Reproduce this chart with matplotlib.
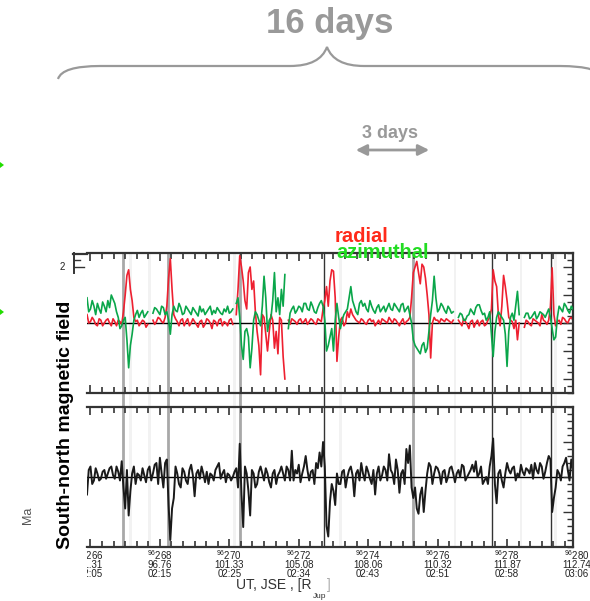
import numpy as np
import matplotlib
matplotlib.use("Agg")
import matplotlib.pyplot as plt
from matplotlib.path import Path
from matplotlib.patches import PathPatch, Rectangle, Polygon

plt.rcParams["font.family"] = ["Liberation Sans", "DejaVu Sans"]
plt.rcParams["mathtext.fontset"] = "custom"
plt.rcParams["mathtext.rm"] = "Liberation Sans"
plt.rcParams["mathtext.it"] = "Liberation Sans"

nan = np.nan

# sample grid: day of year 1996, every 0.1 day, plus the half steps in between
days = np.round(265.9 + 0.1 * np.arange(141), 2)
days_mid = np.round(265.95 + 0.1 * np.arange(140), 2)

radial = [
    0.3, 0.05, 0.1, -0.1, 0.1, 0.0, 0.15, -0.1, 0.05, 0.1,
    -0.05, 1.0, 1.9, 0.8, 0.05, -0.1, 0.1, -0.15, nan, 0.1,
    0.05, 0.15, 0.0, 0.6, 2.3, 0.3, 0.05, 0.1, -0.1, 0.15,
    0.0, 0.05, -0.15, 0.1, -0.05, 0.1, -0.2, 0.05, 0.1, -0.1,
    0.0, 0.1, -0.05, 0.3, 2.4, 1.5, 0.5, 2.0, 1.5, -0.3,
    -1.85, 0.2, -1.0, 0.3, -0.9, -1.1, 0.1, -2.0, 0.1, 0.15,
    0.05, 0.1, 0.0, 0.15, 0.05, 0.1, -0.05, 0.1, 0.5, 1.3,
    1.5, 1.85, -1.37, 0.1, -0.1, 0.4, 0.5, 0.2, 0.05, 0.15,
    0.0, 0.1, 0.05, -0.1, 0.1, 0.15, 0.05, 0.2, 0.0, 0.1,
    -0.1, 0.15, 0.05, 0.2, 1.8, 2.2, 1.4, 2.0, 1.0, -1.25,
    0.2, 0.1, 0.15, 0.05, 0.1, 0.0, nan, 0.1, -0.1, 0.05,
    -0.2, 0.1, 0.0, -0.1, 0.1, -0.05, 0.2, 1.9, 1.3, -0.1,
    1.7, 0.8, 0.1, -0.2, -0.6, nan, -0.15, 0.05, -0.1, 0.1,
    0.0, 0.3, 0.05, 0.1, 1.97, -0.1, 0.1, 0.2, 0.05, 0.15,
    0.1]
radial_mid = [
    0.0, 0.2, -0.05, 0.15, -0.1, 0.1, 0.0, 0.15, -0.1, 0.05,
    0.4, 1.7, 1.2, 0.2, 0.1, 0.0, 0.05, -0.05, nan, -0.05,
    0.2, 0.05, 0.2, 1.6, 1.2, 0.15, -0.1, 0.15, 0.05, -0.1,
    0.15, -0.05, 0.05, -0.15, 0.15, 0.0, 0.1, -0.1, 0.15, 0.05,
    -0.1, 0.15, nan, 1.2, 2.0, 0.8, 1.8, 1.2, 0.4, -0.8,
    0.3, -0.4, -0.3, 0.1, -0.3, 0.2, -1.2, nan, -0.05, 0.1,
    -0.05, 0.15, 0.05, -0.05, 0.15, 0.0, 0.15, 0.05, 0.8, 0.6,
    1.9, 0.9, -0.5, 0.2, 0.0, 0.2, 0.3, 0.1, 0.0, 0.1,
    -0.05, 0.15, 0.1, 0.0, -0.05, 0.1, 0.0, 0.1, 0.15, 0.0,
    0.05, -0.05, 0.1, 0.9, 2.0, 1.8, 2.1, 1.6, 0.3, 0.0,
    0.1, 0.0, 0.1, 0.15, 0.05, 0.1, nan, 0.0, 0.15, -0.05,
    0.05, -0.15, 0.1, 0.05, -0.1, 0.1, 0.5, 1.5, 0.3, 0.6,
    1.3, 0.2, 0.05, 0.1, 0.0, nan, 0.1, -0.05, 0.15, 0.05,
    -0.1, 0.1, -0.05, 0.6, 0.3, 0.05, -0.05, 0.15, 0.0, 0.2]

azimuthal = [
    0.9, 0.5, 0.6, 0.7, 0.35, 0.6, 0.8, 1.0, 0.7, 0.2,
    -0.1, 0.2, -1.6, -0.4, 0.3, 0.2, 0.45, 0.3, nan, 0.35,
    0.5, 0.3, 0.55, 0.4, -0.4, 0.6, 0.4, 0.55, 0.35, 0.5,
    0.3, 0.45, 0.25, 0.4, 0.3, 0.5, 0.3, 0.35, 0.45, 0.3,
    0.4, 0.35, 0.5, 0.7, 0.2, -1.3, -0.2, -1.6, 0.1, 0.3,
    -0.1, 1.67, -0.3, 0.2, 1.8, 0.9, 1.2, 1.73, -0.2, 0.5,
    0.35, 0.6, 0.4, 0.7, 0.45, 0.6, 0.35, 0.7, 0.6, -1.0,
    -0.5, -1.0, 0.7, -0.2, 0.3, 0.5, 1.3, 0.6, 0.3, 0.8,
    0.7, 0.4, 0.6, 0.35, 0.65, 0.5, 0.4, 0.7, 0.45, 0.6,
    0.4, 0.7, 0.5, 0.3, -0.6, -0.9, -1.1, -0.7, -0.9, 0.3,
    1.67, 0.4, 0.7, 0.45, 0.6, 0.35, nan, 0.2, 0.3, 0.1,
    0.3, 0.4, 0.55, 0.65, 0.3, 0.1, 0.4, -1.2, 0.2, 0.3,
    0.1, -1.55, 0.2, 0.1, 1.13, nan, 0.2, 0.35, 0.2, 0.4,
    0.25, 0.35, 0.2, 0.5, -0.2, -0.5, 0.6, 0.4, 0.6, 0.35,
    0.5]
azimuthal_mid = [
    0.4, 0.8, 0.3, 0.5, 0.75, 0.4, 0.55, 0.85, 0.4, -0.2,
    0.1, -0.6, -0.8, 0.1, 0.45, 0.35, 0.2, 0.4, nan, 0.55,
    0.4, 0.6, 0.3, 0.1, 0.3, 0.45, 0.7, 0.3, 0.6, 0.4,
    0.55, 0.35, 0.6, 0.5, 0.4, 0.6, 0.45, 0.55, 0.35, 0.5,
    0.6, 0.4, nan, 0.9, -0.8, -0.3, -0.5, -0.9, 0.4, 0.1,
    0.6, 0.9, 0.1, 0.8, 0.4, 0.3, 0.6, nan, 0.35, 0.6,
    0.45, 0.55, 0.7, 0.5, 0.75, 0.4, 0.55, 0.8, 0.1, -0.8,
    -0.2, 0.1, 0.2, 0.1, 0.4, 0.9, 0.8, 0.4, 0.7, 0.6,
    0.5, 0.8, 0.45, 0.55, 0.4, 0.6, 0.55, 0.5, 0.7, 0.5,
    0.65, 0.4, 0.6, 0.0, -0.8, -1.0, -0.8, -1.05, -0.3, 0.8,
    0.9, 0.5, 0.6, 0.35, 0.5, 0.4, nan, 0.35, 0.1, 0.25,
    0.5, 0.3, 0.65, 0.45, 0.35, 0.2, -0.4, -0.3, 0.4, 0.2,
    -0.4, -0.3, 0.35, 0.6, 0.3, nan, 0.35, 0.15, 0.3, 0.15,
    0.4, 0.3, 0.35, 0.2, -0.6, 0.2, 0.5, 0.7, 0.45, 0.6]

south_north = [
    -0.5, 0.3, -0.1, 0.1, -0.05, 0.2, 0.1, 0.3, -0.05, 0.15,
    0.45, -0.9, -1.1, 0.1, -0.2, 0.05, 0.25, -0.15, 0.3, 0.1,
    0.4, 0.55, -0.3, 0.5, -1.8, -0.6, 0.1, -0.3, 0.15, -0.2,
    0.35, -0.55, 0.2, 0.3, -0.15, -0.2, 0.05, 0.2, 0.4, 0.1,
    -0.15, 0.05, 0.0, 0.25, 0.95, -1.43, 0.1, -1.1, 0.1, -0.2,
    0.3, -0.1, 0.1, -0.3, 0.2, 0.05, 0.3, -0.1, 0.2, 0.75,
    0.2, 0.35, 0.1, 0.6, -0.1, 0.2, 0.4, 0.7, 1.0, -1.4,
    -0.7, -0.4, 0.1, -0.2, 0.2, 0.0, 0.3, -0.55, 0.2, 0.4,
    -0.1, 0.15, -0.2, -0.5, 0.3, 0.05, 0.2, 0.65, 0.1, 0.5,
    -0.45, 0.2, 0.8, 0.9, -0.6, -0.9, -0.5, -1.0, 0.1, 0.3,
    0.1, 0.25, -0.2, 0.2, 0.0, 0.3, -0.15, 0.2, 0.35, -0.1,
    0.1, 0.35, 0.45, 0.1, -0.2, 0.0, 0.3, 1.1, -0.75, 0.2,
    -0.3, 0.4, 0.1, 0.3, 0.1, 0.35, 0.05, 0.2, 0.35, 0.4,
    0.1, 0.3, 0.15, 0.6, -1.0, -0.3, 0.1, 0.3, 0.55, -0.1,
    0.2]
south_north_mid = [
    0.2, -0.2, 0.25, -0.1, 0.15, -0.05, 0.25, 0.05, 0.3, -0.1,
    -0.3, 0.2, -0.4, 0.3, 0.1, -0.1, 0.05, 0.2, -0.1, 0.35,
    -0.2, 0.1, 0.4, -0.8, -0.9, 0.3, -0.2, 0.25, -0.1, 0.2,
    0.05, 0.1, -0.05, 0.1, 0.15, 0.1, -0.1, 0.3, -0.05, 0.2,
    0.1, -0.1, 0.15, -0.3, -0.5, 0.3, -0.4, 0.2, -0.3, 0.15,
    0.1, 0.25, -0.15, 0.1, -0.2, 0.15, 0.1, 0.3, -0.1, -0.1,
    0.1, -0.15, 0.3, 0.2, 0.15, -0.2, 0.25, 0.3, 0.3, -1.7,
    -0.2, -0.8, -0.2, 0.15, -0.3, 0.2, 0.05, 0.1, -0.1, 0.1,
    0.3, -0.05, 0.2, 0.1, -0.1, 0.3, -0.1, 0.2, -0.2, 0.2,
    0.1, -0.2, 0.4, -0.3, -0.3, -1.05, -0.3, -0.4, 0.4, -0.2,
    0.3, 0.1, 0.15, -0.15, 0.25, 0.1, 0.1, 0.0, 0.3, 0.0,
    0.2, 0.15, 0.0, 0.3, -0.1, -0.2, 0.6, -0.2, 0.1, -0.1,
    0.1, 0.2, 0.25, -0.1, 0.0, 0.15, 0.25, 0.1, -0.05, 0.2,
    0.4, -0.05, 0.4, 0.5, -0.6, 0.2, -0.1, 0.4, 0.2, 0.5]

# event markers
gray_events = [266.94, 268.23, 270.31, 275.29]
black_events = [272.73, 277.57, 279.27]
faint_bands = [267.15, 267.7, 270.15, 273.2, 276.5, 278.4, 279.4]

# bottom tick labels
tick_days = [266, 268, 270, 272, 274, 276, 278, 280]
tick_dist = ["91.31", "96.76", "101.33", "105.08", "108.06", "110.32", "111.87", "112.74"]
tick_ut = ["02:05", "02:15", "02:25", "02:34", "02:43", "02:51", "02:58", "03:06"]

# merge the two sample sets in time order
t_all = np.concatenate([days, days_mid])
order = np.argsort(t_all)
t_all = t_all[order]
rad_all = np.concatenate([radial, radial_mid])[order]
azi_all = np.concatenate([azimuthal, azimuthal_mid])[order]
sn_all = np.concatenate([south_north, south_north_mid])[order]

W, H = 590, 601
fig = plt.figure(figsize=(W / 100, H / 100), dpi=100)


def fx(px):
    return px / W


def fy(py):
    return 1 - py / H


XL = (265.9, 279.9)
left, right = 87, 573

# backdrop for event lines spanning both panels
back = fig.add_axes([fx(left), fy(547), fx(right - left), (547 - 253) / H], zorder=-1)
back.set_xlim(*XL)
back.set_ylim(0, 1)
back.axis("off")
for d in faint_bands:
    back.axvspan(d - 0.04, d + 0.04, color="#f2f2f2", lw=0)
for d in gray_events:
    back.axvline(d, color="#a8a8a8", lw=2.0)
for d in black_events:
    back.axvline(d, color="#333333", lw=1.0)

ax1 = fig.add_axes([fx(left), fy(393), fx(right - left), 140 / H])
ax2 = fig.add_axes([fx(left), fy(547), fx(right - left), 140 / H])

for ax in (ax1, ax2):
    ax.set_facecolor("none")
    ax.set_xlim(*XL)
    ax.spines["left"].set_visible(False)
    for s in ("top", "bottom", "right"):
        ax.spines[s].set_linewidth(1.6)
        ax.spines[s].set_color("#333333")
    ax.set_xticks(np.arange(266, 280, 2))
    ax.set_xticks(np.arange(266, 280, 1 / 3), minor=True)
    ax.tick_params(axis="x", which="both", direction="in", top=True, bottom=True,
                   labelbottom=False, color="#333333", width=1.2)
    ax.tick_params(axis="x", which="major", length=6)
    ax.tick_params(axis="x", which="minor", length=4)
    ax.tick_params(axis="y", which="both", direction="in", left=False, right=True,
                   labelleft=False, labelright=False, color="#333333", width=1.0)
    ax.tick_params(axis="y", which="major", length=7)
    ax.tick_params(axis="y", which="minor", length=4)

ax1.set_ylim(-2.5, 2.5)
ax1.set_yticks([-2, -1, 0, 1, 2])
ax1.set_yticks(np.arange(-2.5, 2.51, 0.25), minor=True)
ax1.axhline(0, color="black", lw=1.0, zorder=1)
ax1.plot(t_all, azi_all, color="#0aa64a", lw=1.2, zorder=3)
ax1.plot(t_all, rad_all, color="#ee2030", lw=1.2, zorder=2)

ax2.set_ylim(-2, 2)
ax2.set_yticks([-1, 0, 1])
ax2.set_yticks(np.arange(-2, 2.01, 0.2), minor=True)
ax2.axhline(0, color="black", lw=1.0, zorder=1)
ax2.plot(t_all, sn_all, color="#1a1a1a", lw=1.4, zorder=2)

# three-line tick labels: 96 day / distance / UT
xt = ax2.get_xaxis_transform()
for d, dist, ut in zip(tick_days, tick_dist, tick_ut):
    label = r"$^{\mathrm{96}}$" + str(d) + "\n" + dist + "\n" + ut
    ax2.text(d, -0.008, label, transform=xt, ha="center", va="top", fontsize=7,
             linespacing=0.82, color="#222222")

# annotation layer in pixel coordinates
ov = fig.add_axes([0, 0, 1, 1], zorder=10)
ov.set_xlim(0, W)
ov.set_ylim(H, 0)
ov.axis("off")
ov.patch.set_alpha(0)

# clip the first tick label on the left
ov.add_patch(Rectangle((74, 548), 12.5, 30, color="white", lw=0))

# stub of the left axis of the upper panel
ov.plot([73, 87], [253.5, 253.5], color="#333333", lw=1.6)
ov.plot([74, 74], [253, 273], color="#333333", lw=1.4)
ov.plot([74, 80], [260, 260], color="#333333", lw=1.0)
ov.plot([74, 84], [267, 267], color="#333333", lw=1.0)
ov.text(62, 267, "2", ha="center", va="center", fontsize=7, color="#222222")

ov.text(362, 236, "radial", color="#ff2a1a", fontsize=14.5, fontweight="bold", ha="center", va="center")
ov.text(383, 252, "azimuthal", color="#22dd22", fontsize=14.5, fontweight="bold", ha="center", va="center")

ov.text(65, 425, "South-north magnetic field", rotation=90, fontsize=14, fontweight="bold",
        ha="center", va="center", color="black")
ov.text(28, 515, "Ma", rotation=90, fontsize=9, ha="center", va="center", color="#555555")

ov.text(312, 585, "UT, JSE , [R", ha="right", va="center", fontsize=10, color="#333333")
ov.text(313, 597, "Jup", ha="left", va="center", fontsize=6, color="#333333")
ov.text(327, 585, "]", ha="left", va="center", fontsize=10, color="#aaaaaa")

# brace and labels
grey = "#999999"
ov.text(330, 24, "16 days", ha="center", va="center", fontsize=25, fontweight="bold", color=grey)
brace = Path([(58, 79), (62, 66), (100, 66), (100, 66),
              (290, 66), (320, 66), (327, 47),
              (334, 66), (364, 66), (364, 66),
              (560, 66), (600, 66), (604, 79)],
             [Path.MOVETO, Path.CURVE3, Path.CURVE3, Path.LINETO,
              Path.LINETO, Path.CURVE3, Path.CURVE3,
              Path.CURVE3, Path.CURVE3, Path.LINETO,
              Path.LINETO, Path.CURVE3, Path.CURVE3])
ov.add_patch(PathPatch(brace, fill=False, ec=grey, lw=1.6))

ov.text(390, 133, "3 days", ha="center", va="center", fontsize=13, fontweight="bold", color=grey)
ov.annotate("", xy=(353, 150), xytext=(432, 150),
            arrowprops=dict(arrowstyle="<|-|>", color=grey, lw=2, mutation_scale=16))

# small green markers at the left edge
for py in (165, 312):
    ov.add_patch(Polygon([(0, py - 3), (0, py + 3), (4, py)], closed=True, color="#22dd00", lw=0))

fig.savefig("out.png", dpi=100)
